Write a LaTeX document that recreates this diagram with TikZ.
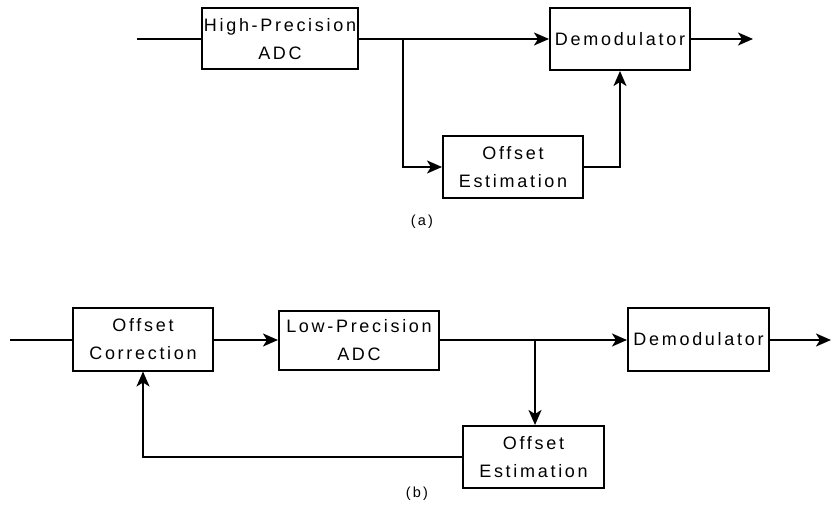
\documentclass[tikz,border=0pt]{standalone}
\usepackage{fontspec}
\setmainfont{Liberation Sans}[LetterSpace=15]
\usepackage{tikz}
\usetikzlibrary{arrows.meta, positioning}

\begin{document}
\begin{tikzpicture}[
      x=1pt, y=-1pt,
      block/.style={draw, rectangle, line width=2pt, inner sep=0pt, align=center,
        font=\fontsize{18pt}{28pt}\selectfont},
      caption/.style={font=\fontsize{14.5pt}{16pt}\selectfont},
      >={Stealth[length=15pt, width=13pt, inset=4pt]},
      line width=2pt
    ]
    \useasboundingbox (0,0) rectangle (832,529);

    % (a) Nodes
    \node[block, minimum width=156pt, minimum height=61pt] (hpadc) at (280,39) {High-Precision\\ADC};
    \node[block, minimum width=140pt, minimum height=62pt] (demodA) at (620,39) {Demodulator};
    \node[block, minimum width=140pt, minimum height=62pt] (estA) at (513,167) {Offset\\Estimation};
    \coordinate (inA) at (137,39);
    \coordinate (outA) at (753,39);
    \coordinate (brA) at (403,39);
    \node[caption] (capA) at (422,222) {(a)};

    % (a) Arrows
    \draw (inA) -- (hpadc);
    \draw[->] (hpadc) -- (demodA);
    \draw[->] (demodA) -- (outA);
    \draw[->] (brA) |- (estA);
    \draw[->] (estA.east) -| (demodA.south);

    % (b) Nodes
    \node[block, minimum width=140pt, minimum height=63pt] (corr) at (143,339) {Offset\\Correction};
    \node[block, minimum width=160pt, minimum height=59pt] (lpadc) at (359,340.5) {Low-Precision\\ADC};
    \node[block, minimum width=141pt, minimum height=63pt] (demodB) at (698.5,339.5) {Demodulator};
    \node[block, minimum width=141pt, minimum height=62pt] (estB) at (533.5,457) {Offset\\Estimation};
    \coordinate (inB) at (10,340);
    \coordinate (outB) at (831,340);
    \coordinate (brB) at (535,340);
    \node[caption] (capB) at (417,494) {(b)};

    % (b) Arrows
    \draw (inB) -- (corr.west |- inB);
    \draw[->] (corr.east |- inB) -- (lpadc.west |- inB);
    \draw[->] (lpadc.east |- inB) -- (demodB.west |- inB);
    \draw[->] (demodB.east |- inB) -- (outB);
    \draw[->] (brB) -- (estB.north -| brB);

    % Feedback loop
    \draw[->] (estB.west) -| (corr.south);

  \end{tikzpicture}
\end{document}
